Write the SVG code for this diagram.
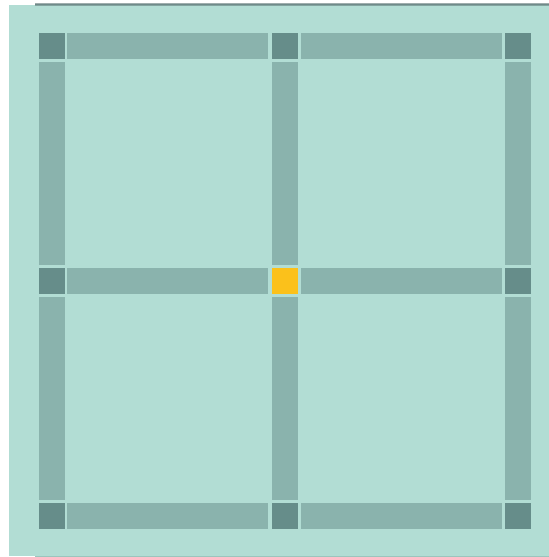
<svg xmlns="http://www.w3.org/2000/svg" width="549" height="557" viewBox="0 0 549 557">
<style>
.bg{fill:#b2ddd4}
.bar{fill:#8ab3ad}
.sq{fill:#668d8a}
.hub{fill:#fbc11b}
</style>
<rect x="35" y="555.5" width="514" height="1.5" fill="#9cc5bd"/>
<rect class="bg" x="9" y="5" width="540" height="551"/>
<rect x="35" y="3.3" width="514" height="2.4" fill="#6f8a89"/>
<rect x="35" y="3.3" width="514" height="0.7" fill="#a3aeae"/>
<g id="connectors">
<rect class="bar" x="67" y="33" width="201" height="26"/>
<rect class="bar" x="301" y="33" width="201" height="26"/>
<rect class="bar" x="67" y="268" width="201" height="26"/>
<rect class="bar" x="301" y="268" width="201" height="26"/>
<rect class="bar" x="67" y="503" width="201" height="26"/>
<rect class="bar" x="301" y="503" width="201" height="26"/>
<rect class="bar" x="39" y="62" width="26" height="203"/>
<rect class="bar" x="39" y="297" width="26" height="203"/>
<rect class="bar" x="272" y="62" width="26" height="203"/>
<rect class="bar" x="272" y="297" width="26" height="203"/>
<rect class="bar" x="505" y="62" width="26" height="203"/>
<rect class="bar" x="505" y="297" width="26" height="203"/>
</g>
<g id="n00"><rect class="sq" x="39" y="33" width="26" height="26"/></g>
<g id="n01"><rect class="sq" x="272" y="33" width="26" height="26"/></g>
<g id="n02"><rect class="sq" x="505" y="33" width="26" height="26"/></g>
<g id="n10"><rect class="sq" x="39" y="268" width="26" height="26"/></g>
<g id="n11"><rect class="hub" x="272" y="268" width="26" height="26"/></g>
<g id="n12"><rect class="sq" x="505" y="268" width="26" height="26"/></g>
<g id="n20"><rect class="sq" x="39" y="503" width="26" height="26"/></g>
<g id="n21"><rect class="sq" x="272" y="503" width="26" height="26"/></g>
<g id="n22"><rect class="sq" x="505" y="503" width="26" height="26"/></g>
</svg>
